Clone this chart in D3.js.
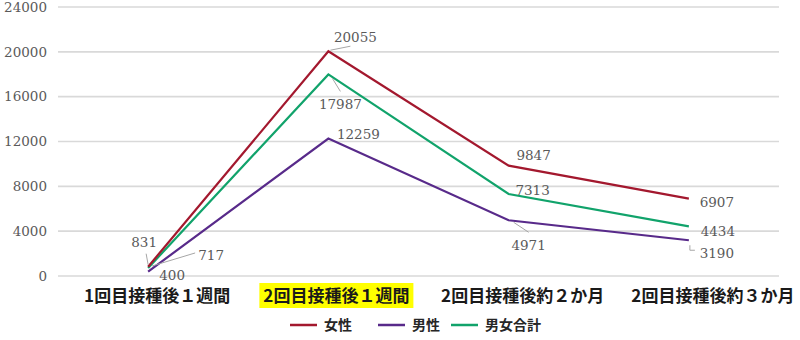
<!DOCTYPE html>
<html><head><meta charset="utf-8">
<script src="https://cdn.jsdelivr.net/npm/d3@7"></script>
<style>body{margin:0;background:#fff}</style>
</head><body>
<svg id="c" width="800" height="340"></svg>
<script>
const categories = ["1回目接種後１週間", "2回目接種後１週間", "2回目接種後約２か月", "2回目接種後約３か月"];
const female = [831, 20055, 9847, 6907];
const male = [400, 12259, 4971, 3190];
const total = [717, 17987, 7313, 4434];
const yTicks = [0, 4000, 8000, 12000, 16000, 20000, 24000];
const seriesNames = ["女性", "男性", "男女合計"];
const highlighted = 1;

// layout (label offsets relative to the point, in px)
const labelOff = {
  "女性": [[-4, -24], [27, -14], [25, -10], [28, 4]],
  "男性": [[24, 4], [30, -4], [20, 25], [28, 13]],
  "男女合計": [[63, -13], [12, 30], [24, -4], [29, 5]]
};
// leader polylines (offsets from the point), null = none
const leaders = {
  "女性": [[[0, -2], [-2, -13]], [[2, -1], [22, -5]], null, null],
  "男性": [null, null, [[5, 2], [20, 12]], [[1, 5], [1, 10], [6, 10]]],
  "男女合計": [[[4, -2], [47, -15]], [[4, 4], [12, 17]], null, null]
};
const colors = {"女性": "#a3182e", "男性": "#582a8a", "男女合計": "#11a36b"};
const catDx = [9, 8, 14, 24];

const svg = d3.select("#c");
const m = {l: 58, r: 21};
const W = 800;
const x = d3.scaleBand().domain(categories).range([m.l, W - m.r]);
const y = d3.scaleLinear().domain([0, 24000]).range([276, 7]);

// gridlines
svg.append("g").selectAll("line").data(yTicks).join("line")
  .attr("x1", m.l).attr("x2", W - m.r)
  .attr("y1", d => y(d)).attr("y2", d => y(d))
  .attr("stroke", "#d9d9d9").attr("stroke-width", 1.6);

// y labels
svg.append("g").selectAll("text").data(yTicks).join("text")
  .attr("x", 47).attr("y", d => y(d)).attr("dy", "0.35em")
  .attr("text-anchor", "end")
  .attr("font-family", "DejaVu Serif").attr("font-size", 13.5)
  .attr("fill", "#5a5a5a").text(d => d);

// category labels
const catG = svg.append("g");
categories.forEach((c, i) => {
  const cx = x(c) + x.bandwidth() / 2 + catDx[i];
  const t = catG.append("text").attr("x", cx).attr("y", 296).attr("dy", "0.35em")
    .attr("text-anchor", "middle")
    .attr("font-family", "Noto Sans CJK JP").attr("font-weight", "bold")
    .attr("font-size", 17).attr("fill", "#1a1a1a").text(c);
  if (i === highlighted) {
    const bb = t.node().getBBox();
    catG.insert("rect", "text").attr("x", bb.x - 4).attr("y", 283)
      .attr("width", bb.width + 8).attr("height", 25).attr("fill", "#ffff00");
  }
});

const data = {"女性": female, "男性": male, "男女合計": total};
const line = d3.line().x((d, i) => x(categories[i]) + x.bandwidth() / 2).y(d => y(d));

["男性", "男女合計", "女性"].forEach(name => {
  svg.append("path").datum(data[name]).attr("d", line)
    .attr("fill", "none").attr("stroke", colors[name]).attr("stroke-width", 2.2);
});

// data labels
const lp = d3.line();
seriesNames.forEach(name => {
  data[name].forEach((v, i) => {
    const px = x(categories[i]) + x.bandwidth() / 2, py = y(v);
    const [dx, dy] = labelOff[name][i];
    const ld = leaders[name][i];
    if (ld) {
      svg.append("path").attr("d", lp(ld.map(([a, b]) => [px + a, py + b])))
        .attr("fill", "none").attr("stroke", "#a6a6a6").attr("stroke-width", 1);
    }
    svg.append("text").attr("x", px + dx).attr("y", py + dy).attr("dy", "0.35em")
      .attr("text-anchor", "middle")
      .attr("font-family", "DejaVu Serif").attr("font-size", 13.5)
      .attr("fill", "#5a5a5a").text(v);
  });
});

// legend
const leg = svg.append("g");
const legX = [290, 378, 451];
seriesNames.forEach((name, i) => {
  leg.append("line").attr("x1", legX[i]).attr("x2", legX[i] + 27)
    .attr("y1", 325).attr("y2", 325).attr("stroke", colors[name]).attr("stroke-width", 2.5);
  leg.append("text").attr("x", legX[i] + 34).attr("y", 325).attr("dy", "0.35em")
    .attr("font-family", "Noto Sans CJK JP").attr("font-weight", "bold")
    .attr("font-size", 14).attr("fill", "#262626").text(name);
});
</script>
</body></html>
